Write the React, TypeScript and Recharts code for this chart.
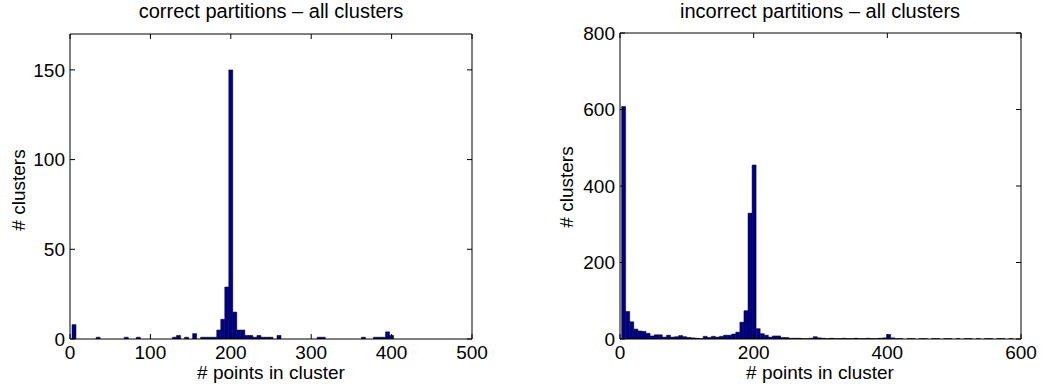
import React from 'react';
import { BarChart, Bar, XAxis, YAxis } from 'recharts';

const FONT = '"Liberation Sans", Arial, Helvetica, sans-serif';
const BAR_FILL = '#00008f';

// left panel: correct partitions, bins of 5 points
const correctBinStart = 5;
const correctBinWidth = 5;
const correctCounts = [
  8, 0, 0, 0, 0, 0, 1, 0, 0, 0,
  0, 0, 0, 1, 0, 0, 1, 0, 0, 0,
  0, 0, 0, 0, 0, 1, 2, 0, 1, 0,
  3, 0, 1, 1, 1, 1, 5, 11, 29, 150,
  15, 5, 5, 2, 2, 1, 2, 1, 1, 1,
  0, 2, 0, 0, 0, 0, 0, 0, 0, 0,
  0, 1, 1, 0, 0, 0, 0, 0, 0, 0,
  0, 0, 1, 0, 0, 1, 1, 1, 4, 2,
  0, 0, 0, 0, 0, 0, 0, 0, 0, 0,
  0, 0, 0, 0, 0, 0, 0, 0, 0,
];
const correctXTicks = [0, 100, 200, 300, 400, 500];
const correctYTicks = [0, 50, 100, 150];

// right panel: incorrect partitions, bins of ~6 points
const incorrectBinStart = 5.5;
const incorrectBinWidth = 6.1;
const incorrectCounts = [
  608, 72, 45, 26, 21, 20, 15, 8, 11, 11,
  5, 10, 5, 6, 9, 6, 4, 3, 2, 1,
  7, 4, 7, 5, 7, 10, 10, 13, 18, 44,
  74, 329, 455, 27, 14, 10, 5, 8, 8, 4,
  4, 2, 2, 2, 1, 1, 2, 6, 3, 2,
  1, 2, 1, 1, 2, 1, 1, 2, 1, 1,
  2, 1, 1, 2, 3, 12, 3, 1, 1, 0,
  1, 1, 0, 1, 1, 0, 1, 1, 0, 1,
  1, 0, 1, 0, 1, 1, 0, 1, 0, 1,
  1, 0, 1, 1, 0, 1,
];
const incorrectXTicks = [0, 200, 400, 600];
const incorrectYTicks = [0, 200, 400, 600, 800];

const toBins = (counts: number[], start: number, width: number) =>
  counts.map((count, i) => ({ x: start + i * width, count }));

const correctData = toBins(correctCounts, correctBinStart, correctBinWidth);
const incorrectData = toBins(incorrectCounts, incorrectBinStart, incorrectBinWidth);

const tickStyle = { fill: '#000', fontSize: 19, fontFamily: FONT };
const blank = () => '';

interface HistProps {
  data: { x: number; count: number }[];
  width: number;
  margin: { top: number; right: number; bottom: number; left: number };
  xMax: number;
  yMax: number;
  xTicks: number[];
  yTicks: number[];
}

// matlab-style box: ticks point inward on all four sides
const Histogram = ({ data, width, margin, xMax, yMax, xTicks, yTicks }: HistProps) => (
  <BarChart width={width} height={392} data={data} margin={margin} barCategoryGap={0} barGap={0}>
    <XAxis
      xAxisId="b"
      dataKey="x"
      type="number"
      domain={[0, xMax]}
      ticks={xTicks}
      allowDataOverflow
      interval={0}
      height={30}
      tickSize={-5}
      tickMargin={12}
      stroke="#000"
      tick={tickStyle}
    />
    <XAxis
      xAxisId="t"
      orientation="top"
      dataKey="x"
      type="number"
      domain={[0, xMax]}
      ticks={xTicks}
      allowDataOverflow
      interval={0}
      height={1}
      tickSize={-5}
      tickFormatter={blank}
      stroke="#000"
    />
    <YAxis
      yAxisId="l"
      type="number"
      domain={[0, yMax]}
      ticks={yTicks}
      allowDataOverflow
      interval={0}
      width={40}
      tickSize={-5}
      tickMargin={10}
      stroke="#000"
      tick={tickStyle}
    />
    <YAxis
      yAxisId="r"
      orientation="right"
      type="number"
      domain={[0, yMax]}
      ticks={yTicks}
      allowDataOverflow
      interval={0}
      width={1}
      tickSize={-5}
      tickFormatter={blank}
      stroke="#000"
    />
    <Bar
      xAxisId="b"
      yAxisId="l"
      dataKey="count"
      fill={BAR_FILL}
      stroke="#000"
      strokeWidth={0.5}
      isAnimationActive={false}
    />
  </BarChart>
);

const textBase: React.CSSProperties = {
  position: 'absolute',
  fontFamily: FONT,
  color: '#000',
  whiteSpace: 'nowrap',
  lineHeight: 1,
};

const Centered = ({ x, y, size, rotate, children }: any) => (
  <div
    style={{
      ...textBase,
      left: x,
      top: y,
      fontSize: size,
      transform: `translate(-50%, -50%)${rotate ? ' rotate(-90deg)' : ''}`,
    }}
  >
    {children}
  </div>
);

export default function App() {
  return (
    <div style={{ position: 'absolute', left: 0, top: 0, width: 1047, height: 392, background: '#fff', overflow: 'hidden' }}>
      <div style={{ position: 'absolute', left: 0, top: 0 }}>
        <Histogram
          data={correctData}
          width={523}
          margin={{ top: 33, right: 50, bottom: 23, left: 30 }}
          xMax={500}
          yMax={170}
          xTicks={correctXTicks}
          yTicks={correctYTicks}
        />
      </div>
      <div style={{ position: 'absolute', left: 523, top: 0 }}>
        <Histogram
          data={incorrectData}
          width={524}
          margin={{ top: 32, right: 25, bottom: 23, left: 57 }}
          xMax={600}
          yMax={800}
          xTicks={incorrectXTicks}
          yTicks={incorrectYTicks}
        />
      </div>

      <Centered x={271} y={11} size={20}>correct partitions – all clusters</Centered>
      <Centered x={820} y={11} size={20}>incorrect partitions – all clusters</Centered>

      <Centered x={271} y={372} size={19}># points in cluster</Centered>
      <Centered x={820} y={372} size={19}># points in cluster</Centered>

      <Centered x={18} y={190} size={19} rotate># clusters</Centered>
      <Centered x={566} y={187} size={19} rotate># clusters</Centered>
    </div>
  );
}
